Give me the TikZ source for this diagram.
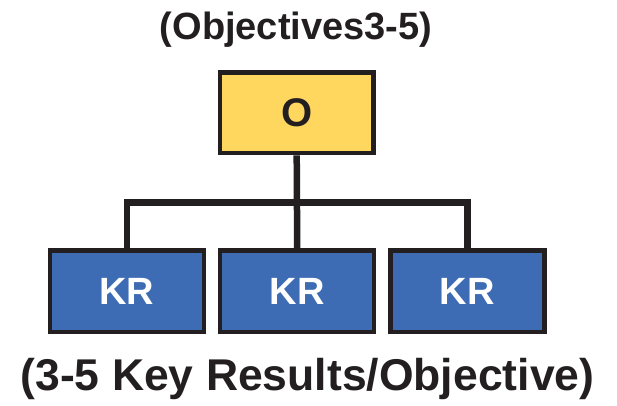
\documentclass[tikz,border=0pt]{standalone}
\usepackage{fontspec}
\setmainfont{Liberation Sans}
\usetikzlibrary{backgrounds}
\definecolor{ink}{HTML}{231F20}
\definecolor{oyellow}{HTML}{FFD75E}
\definecolor{krblue}{HTML}{3D6CB4}
\tikzset{
  obox/.style={draw=ink, line width=4.5pt, fill=oyellow, minimum width=153.5pt, minimum height=80.5pt, inner sep=0pt, text=ink, font=\fontsize{40}{42}\selectfont\bfseries},
  krbox/.style={draw=ink, line width=4.5pt, fill=krblue, minimum width=154pt, minimum height=81.5pt, inner sep=0pt, text=white, font=\fontsize{38}{40}\selectfont\bfseries},
  link/.style={draw=ink, line width=6.5pt, line join=miter},
  caption/.style={text=ink, inner sep=0pt, anchor=base}
}
\begin{document}
\begin{tikzpicture}[x=1pt,y=1pt]
\useasboundingbox (0,0) rectangle (617,-405);
\node[caption, font=\fontsize{38}{40}\selectfont\bfseries] (title) at (296,-39) {(Objectives3-5)};
\node[caption, font=\fontsize{44.5}{47}\selectfont\bfseries] (foot) at (307.5,-390) {(3-5 Key Results/Objective)};
\coordinate (bar) at (296.7,-202.3);
\node[obox] (o) at (296.7,-112.8) {O};
\node[krbox] (k1) at (126.8,-291.3) {KR};
\node[krbox] (k2) at (297.2,-291.3) {KR};
\node[krbox] (k3) at (467.3,-291.3) {KR};
\begin{pgfonlayer}{background}
\draw[link] (k1.north) |- (bar) -| (k3.north);
\draw[link] (o.south) -- (k2.north);
\end{pgfonlayer}
\end{tikzpicture}
\end{document}
